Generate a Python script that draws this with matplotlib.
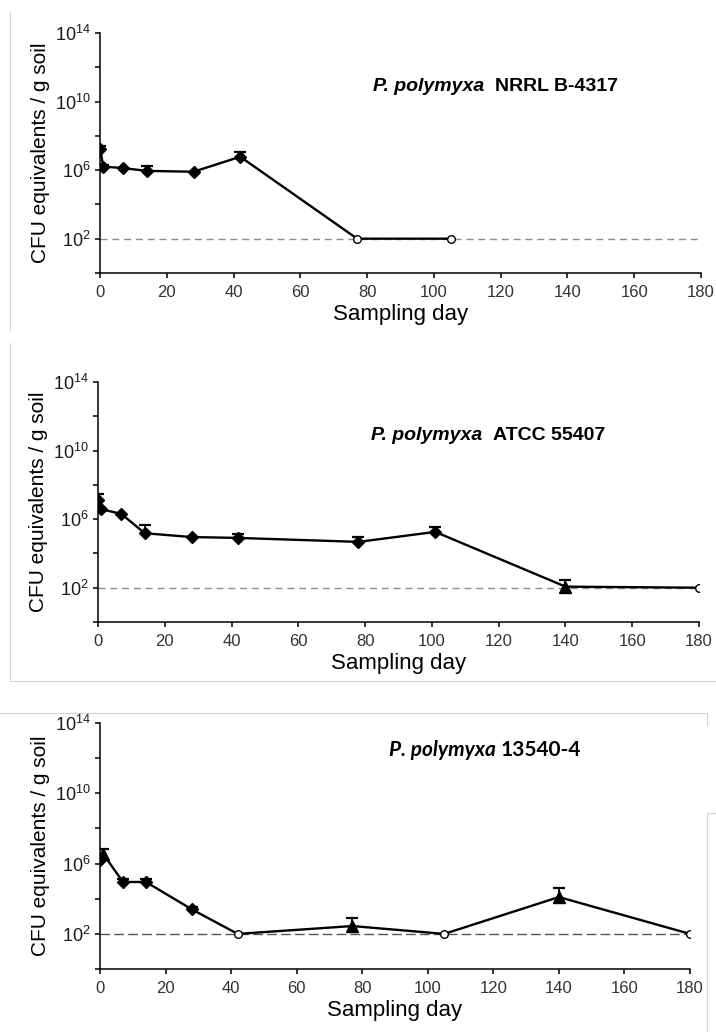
import numpy as np
import matplotlib.pyplot as plt
from matplotlib.lines import Line2D
from matplotlib.ticker import FixedLocator, LogFormatterMathtext, NullFormatter

plt.rcParams['font.family'] = ['Liberation Sans', 'DejaVu Sans']
plt.rcParams['mathtext.default'] = 'regular'

nan = np.nan

# NRRL B-4317
days_a = [0, 1, 7, 14, 28, 42, 77, 105]
cfu_a = [1.7e7, 1.6e6, 1.3e6, 9e5, 8e5, 6e6, 1e2, 1e2]
top_a = [2.5e7, 2.0e6, nan, 1.8e6, nan, 1.15e7, nan, nan]
mark_a = ['D', 'D', 'D', 'D', 'D', 'D', 'o', 'o']

# ATCC 55407
days_b = [0, 1, 7, 14, 28, 42, 78, 101, 140, 180]
cfu_b = [1.3e7, 3.8e6, 2e6, 1.5e5, 9e4, 8e4, 4.7e4, 1.8e5, 1.15e2, 1e2]
top_b = [2.8e7, nan, nan, 4.5e5, nan, 1.35e5, 9e4, 3.5e5, 2.9e2, nan]
mark_b = ['D', 'D', 'D', 'D', 'D', 'D', 'D', 'D', '^', 'o']

# 13540-4
days_c = [0, 1, 7, 14, 28, 42, 77, 105, 140, 180]
cfu_c = [1.6e6, 3.5e6, 9e4, 9e4, 2.5e3, 1e2, 2.8e2, 1e2, 1.25e4, 1e2]
top_c = [nan, 7.2e6, 1.25e5, 1.25e5, 3.5e3, nan, 8e2, nan, 4e4, nan]
mark_c = ['D', '^', 'D', 'D', 'D', 'o', '^', 'o', '^', 'o']

detect_limit = 1e2
xticks = [0, 20, 40, 60, 80, 100, 120, 140, 160, 180]

fig = plt.figure(figsize=(7.16, 10.32), dpi=100)

panels = [
    dict(days=days_a, cfu=cfu_a, top=top_a, mark=mark_a,
         rect=[0.1397, 0.7355, 0.8394, 0.2326], strain='NRRL B-4317',
         tpos=(0.454, 0.76), gap=11, tfont=['Liberation Sans'], tsize=14,
         dcol='#8c8c8c', dash=(5, 3.5)),
    dict(days=days_b, cfu=cfu_b, top=top_b, mark=mark_b,
         rect=[0.1369, 0.3973, 0.8394, 0.2326], strain='ATCC 55407',
         tpos=(0.454, 0.758), gap=11, tfont=['Liberation Sans'], tsize=14,
         dcol='#8c8c8c', dash=(5, 3.5)),
    dict(days=days_c, cfu=cfu_c, top=top_c, mark=mark_c,
         rect=[0.1397, 0.0610, 0.8240, 0.2384], strain='13540-4',
         tpos=(0.49, 0.866), gap=5, tfont=['Lato', 'DejaVu Sans'], tsize=15,
         dcol='#555555', dash=(7, 3)),
]

titles = []
for p in panels:
    ax = fig.add_axes(p['rect'])
    ax.set_yscale('log')
    ax.set_ylim(1, 1e14)
    ax.set_xlim(0, 180)

    ax.axhline(detect_limit, color=p['dcol'], lw=1.0, dashes=p['dash'], zorder=1)

    ax.plot(p['days'], p['cfu'], color='black', lw=1.7, zorder=2)

    # upper error bars only
    for d, v, t in zip(p['days'], p['cfu'], p['top']):
        if not np.isnan(t):
            ax.vlines(d, v, t, color='black', lw=1.3, zorder=2)
            ax.plot(d, t, marker='_', ms=9, mew=1.6, color='black', zorder=2)

    for d, v, m in zip(p['days'], p['cfu'], p['mark']):
        if m == 'o':
            ax.plot(d, v, marker='o', ms=5.5, mfc='white', mec='black', mew=1.0, zorder=3)
        elif m == '^':
            ax.plot(d, v, marker='^', ms=8, color='black', zorder=3)
        else:
            ax.plot(d, v, marker='D', ms=6.3, color='black', zorder=3)

    ax.yaxis.set_major_locator(FixedLocator([1e2, 1e6, 1e10, 1e14]))
    ax.yaxis.set_major_formatter(LogFormatterMathtext())
    ax.yaxis.set_minor_locator(FixedLocator([1, 1e4, 1e8, 1e12]))
    ax.yaxis.set_minor_formatter(NullFormatter())
    ax.set_xticks(xticks)

    for s in ['top', 'right']:
        ax.spines[s].set_visible(False)
    for s in ['left', 'bottom']:
        ax.spines[s].set_linewidth(1.1)
    ax.tick_params(which='both', direction='out', length=3.5, width=1.1, pad=3)
    ax.tick_params(axis='y', labelsize=13, labelcolor='#1a1a1a')
    ax.tick_params(axis='x', labelsize=12, pad=5, labelcolor='#333333')

    ax.set_xlabel('Sampling day', fontsize=16, labelpad=3)
    ax.set_ylabel('CFU equivalents / g soil', fontsize=15, labelpad=4)

    t1 = ax.text(p['tpos'][0], p['tpos'][1], 'P. polymyxa', transform=ax.transAxes,
                 fontsize=p['tsize'], fontweight='bold', fontstyle='italic',
                 family=p['tfont'], va='baseline', ha='left')
    titles.append((ax, t1, p))

fig.canvas.draw()
for ax, t1, p in titles:
    bb = t1.get_window_extent()
    x_ax = ax.transAxes.inverted().transform((bb.x1 + p['gap'], bb.y0))[0]
    ax.text(x_ax, p['tpos'][1], p['strain'], transform=ax.transAxes,
            fontsize=p['tsize'], fontweight='bold', family=p['tfont'],
            va='baseline', ha='left')

# faint frame lines left from the pasted figure panels
frame = '#d4d4d4'
fig.add_artist(Line2D([10 / 716, 10 / 716], [1 - 12 / 1032, 1 - 330 / 1032], color=frame, lw=0.8))
fig.add_artist(Line2D([10 / 716, 10 / 716], [1 - 343 / 1032, 1 - 681 / 1032], color=frame, lw=0.8))
fig.add_artist(Line2D([10 / 716, 1.0], [1 - 681 / 1032, 1 - 681 / 1032], color=frame, lw=0.8))
fig.add_artist(Line2D([0.0, 707 / 716], [1 - 713 / 1032, 1 - 713 / 1032], color=frame, lw=0.8))
fig.add_artist(Line2D([707 / 716, 707 / 716], [1 - 713 / 1032, 1 - 725 / 1032], color=frame, lw=0.8))
fig.add_artist(Line2D([707 / 716, 707 / 716], [1 - 813 / 1032, 0.0], color=frame, lw=0.8))
fig.add_artist(Line2D([707 / 716, 1.0], [1 - 813 / 1032, 1 - 813 / 1032], color=frame, lw=0.8))

fig.savefig('out.png', dpi=100)
